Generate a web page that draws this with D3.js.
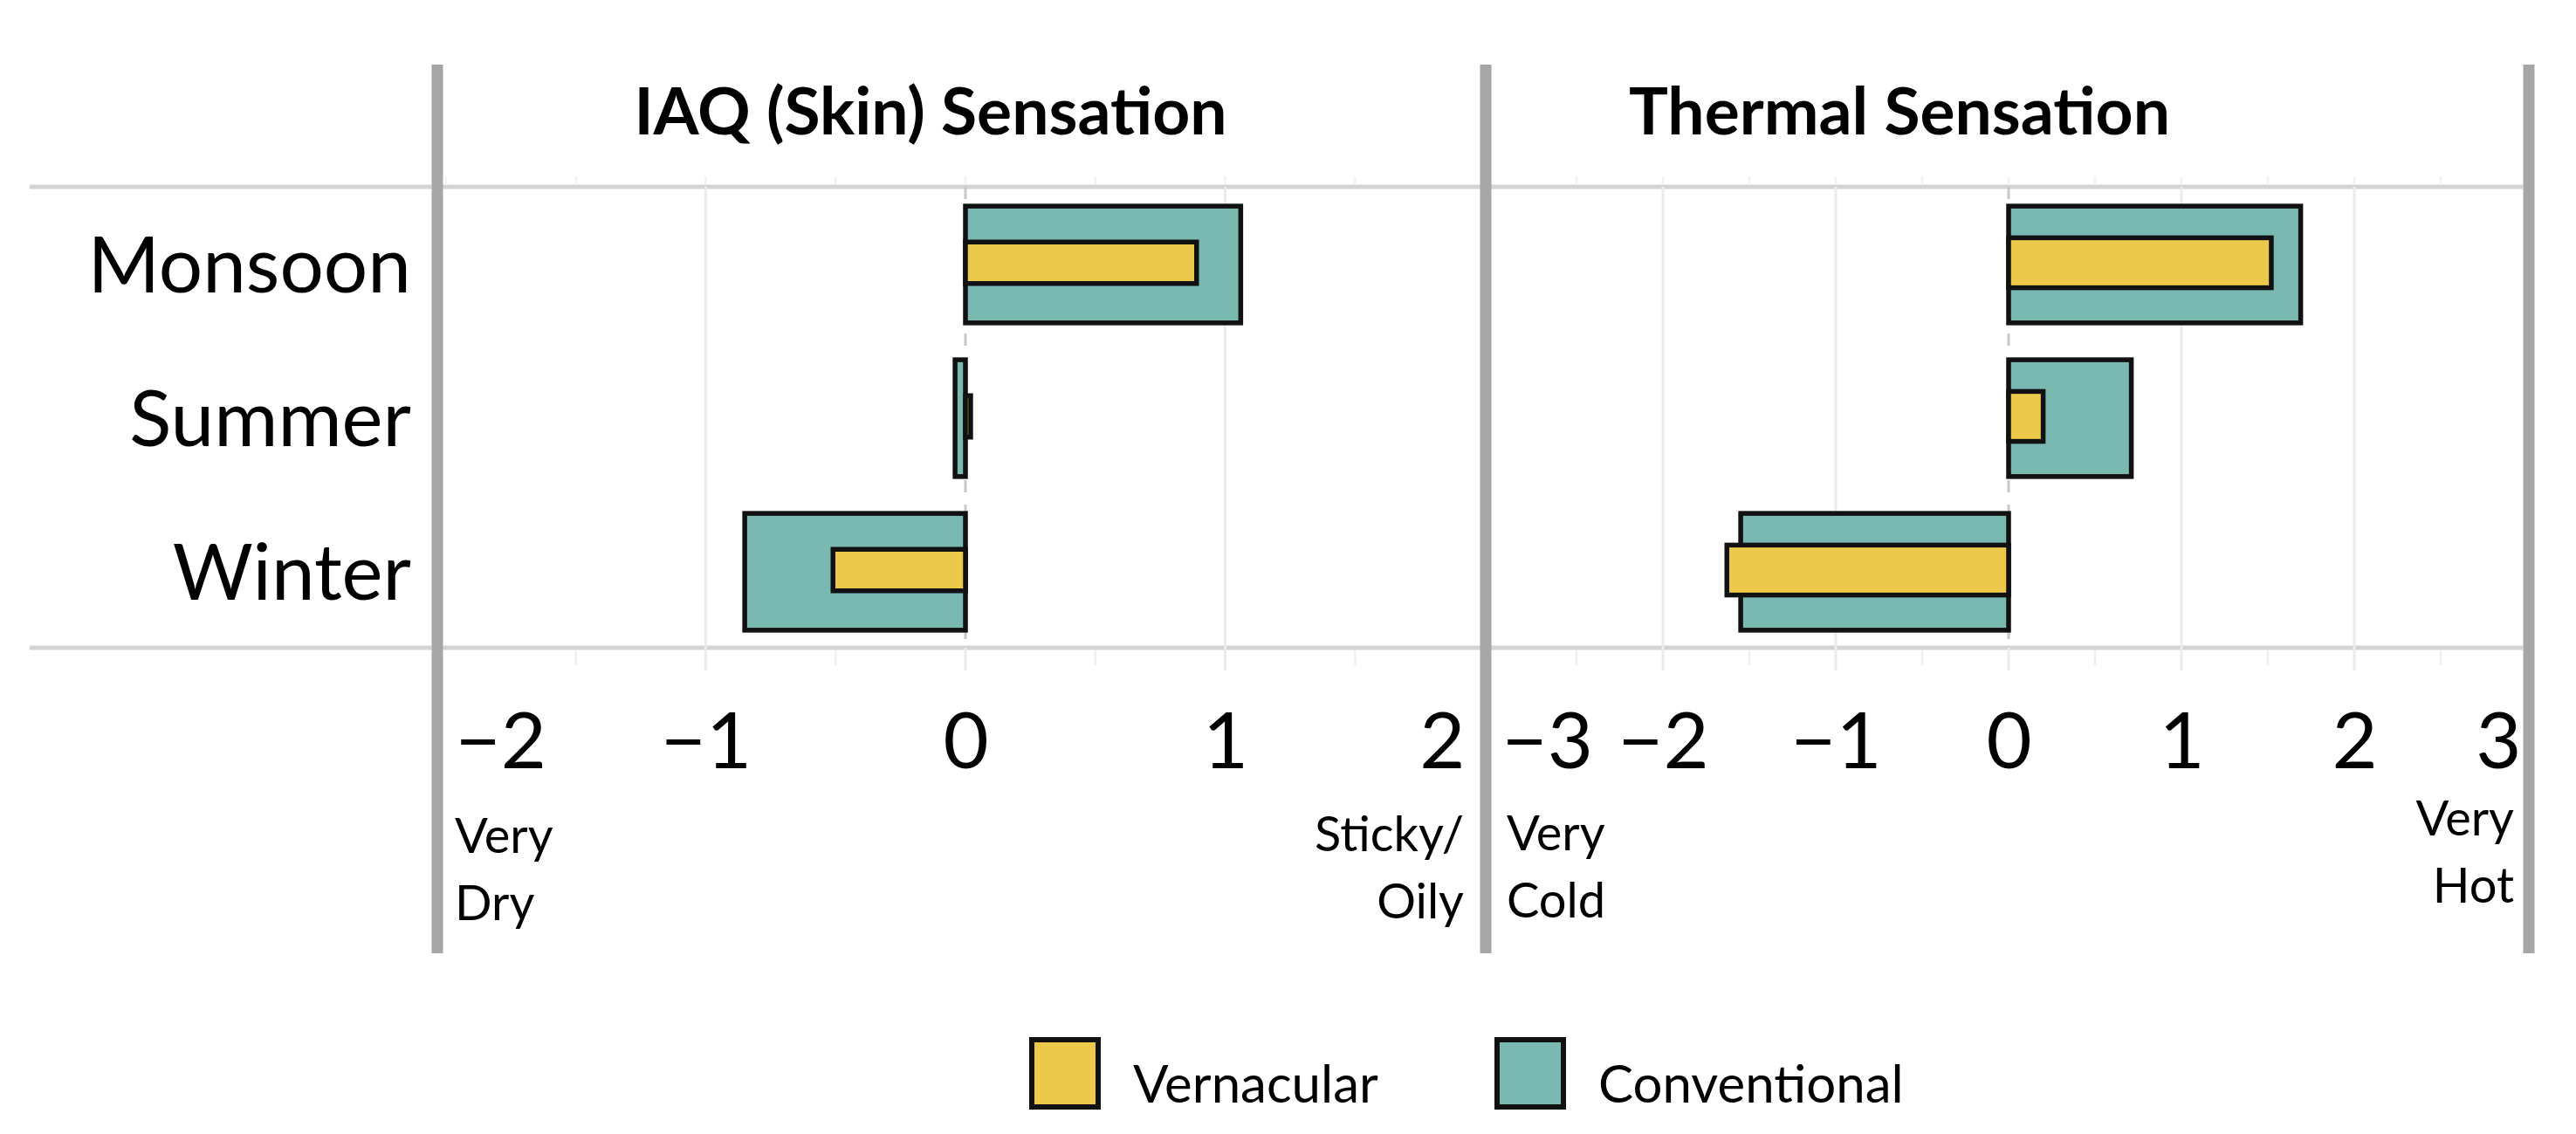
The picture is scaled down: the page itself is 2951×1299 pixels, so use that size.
<!DOCTYPE html>
<html>
<head>
<meta charset="utf-8">
<script src="https://cdn.jsdelivr.net/npm/d3@7"></script>
<style>
  body { margin: 0; background: #fff; }
  text { font-family: Lato, "Open Sans", sans-serif; fill: #000; }
</style>
</head>
<body>
<script>
// data
const seasons = ["Monsoon", "Summer", "Winter"];
const seriesNames = ["Vernacular", "Conventional"];
const iaqVernacular = [0.89, 0.02, -0.51];
const iaqConventional = [1.06, -0.04, -0.85];
const thermalVernacular = [1.52, 0.20, -1.63];
const thermalConventional = [1.69, 0.71, -1.55];
const iaqTicks = [-2, -1, 0, 1, 2];
const thermalTicks = [-3, -2, -1, 0, 1, 2, 3];
const iaqEndLabels = [["Very", "Dry"], ["Sticky/", "Oily"]];
const thermalEndLabels = [["Very", "Cold"], ["Very", "Hot"]];

const W = 2951, H = 1299;
const colors = { Vernacular: "#ecc94a", Conventional: "#79b9b1" };
const plotTop = 214, plotBottom = 742;

const svg = d3.select("body").append("svg")
    .attr("width", W)
    .attr("height", H);

const y = d3.scaleBand().domain(seasons).range([plotTop, plotBottom]);

const panels = [
    { title: "IAQ (Skin) Sensation", titleX: 1066, vern: iaqVernacular, conv: iaqConventional,
      ticks: iaqTicks, ends: iaqEndLabels, x: d3.scaleLinear().domain([-2, 2]).range([511, 1701]),
      vernFrac: 0.27, tickShift: [10, -23],
      endPos: [{ x: 521, y: 977, anchor: "start" }, { x: 1677, y: 975, anchor: "end" }] },
    { title: "Thermal Sensation", titleX: 2176, vern: thermalVernacular, conv: thermalConventional,
      ticks: thermalTicks, ends: thermalEndLabels, x: d3.scaleLinear().domain([-3, 3]).range([1707, 2895]),
      vernFrac: 0.325, tickShift: [13, -7],
      endPos: [{ x: 1726, y: 974, anchor: "start" }, { x: 2880, y: 957, anchor: "end" }] }
];

// horizontal rules
svg.selectAll(".hrule")
    .data([plotTop, plotBottom])
    .enter().append("line")
    .attr("x1", 34).attr("x2", 2890)
    .attr("y1", d => d).attr("y2", d => d)
    .attr("stroke", "#d3d3d3")
    .attr("stroke-width", 5);

panels.forEach(p => {
    const x = p.x;
    const dom = x.domain();
    const minor = d3.range(dom[0] + 0.5, dom[1], 1);
    const major = p.ticks.filter(t => t !== 0 && t !== dom[0] && t !== dom[1]);

    // faint minor marks
    svg.append("g").selectAll("line")
        .data(minor)
        .enter().append("line")
        .attr("x1", d => x(d)).attr("x2", d => x(d))
        .attr("y1", plotBottom + 3).attr("y2", plotBottom + 20)
        .attr("stroke", "#efefef").attr("stroke-width", 2.5);
    svg.append("g").selectAll("line")
        .data(minor.concat(p.ticks))
        .enter().append("line")
        .attr("x1", d => x(d)).attr("x2", d => x(d))
        .attr("y1", plotTop - 12).attr("y2", plotTop - 2)
        .attr("stroke", "#f2f2f2").attr("stroke-width", 2.5);

    // major gridlines
    svg.append("g").selectAll("line")
        .data(major)
        .enter().append("line")
        .attr("x1", d => x(d)).attr("x2", d => x(d))
        .attr("y1", plotTop).attr("y2", plotBottom + 26)
        .attr("stroke", "#ebebeb").attr("stroke-width", 3);

    // zero line
    svg.append("line")
        .attr("x1", x(0)).attr("x2", x(0))
        .attr("y1", plotTop).attr("y2", plotBottom)
        .attr("stroke", "#c8c8c8").attr("stroke-width", 3)
        .attr("stroke-dasharray", "14,14");
    svg.append("line")
        .attr("x1", x(0)).attr("x2", x(0))
        .attr("y1", plotBottom).attr("y2", plotBottom + 26)
        .attr("stroke", "#ebebeb").attr("stroke-width", 3);

    // bars
    const convH = y.bandwidth() * 0.76;
    const vernH = y.bandwidth() * p.vernFrac;
    svg.append("g").selectAll("rect")
        .data(seasons.map((s, i) => ({ s, v: p.conv[i] })))
        .enter().append("rect")
        .attr("x", d => x(Math.min(0, d.v)))
        .attr("width", d => Math.abs(x(d.v) - x(0)))
        .attr("y", d => y(d.s) + y.bandwidth() / 2 - convH / 2 + 1)
        .attr("height", convH)
        .attr("fill", colors.Conventional)
        .attr("stroke", "#111").attr("stroke-width", 5.5);
    svg.append("g").selectAll("rect")
        .data(seasons.map((s, i) => ({ s, v: p.vern[i] })))
        .enter().append("rect")
        .attr("x", d => x(Math.min(0, d.v)))
        .attr("width", d => Math.abs(x(d.v) - x(0)))
        .attr("y", d => y(d.s) + y.bandwidth() / 2 - vernH / 2 - 1)
        .attr("height", vernH)
        .attr("fill", colors.Vernacular)
        .attr("stroke", "#111").attr("stroke-width", 5.5);

    // tick labels
    const axis = svg.append("g")
        .attr("transform", "translate(0,880)")
        .call(d3.axisBottom(x).tickValues(p.ticks).tickSize(0)
            .tickFormat(d => d < 0 ? "\u2212" + Math.abs(d) : d));
    axis.select(".domain").remove();
    axis.selectAll("text")
        .attr("y", 0).attr("dy", 0)
        .attr("font-family", "Lato, sans-serif")
        .attr("font-size", 90)
        .attr("fill", "#000");
    axis.selectAll("text").filter(d => d === dom[0])
        .attr("text-anchor", "start").attr("x", p.tickShift[0]);
    axis.selectAll("text").filter(d => d === dom[1])
        .attr("text-anchor", "end").attr("x", p.tickShift[1]);

    // end descriptors
    p.ends.forEach((lines, k) => {
        const pos = p.endPos[k];
        const t = svg.append("text")
            .attr("font-size", 56)
            .attr("text-anchor", pos.anchor);
        t.selectAll("tspan")
            .data(lines)
            .enter().append("tspan")
            .attr("x", pos.x)
            .attr("y", (d, i) => pos.y + i * 77)
            .text(d => d);
    });

    // panel title
    svg.append("text")
        .attr("x", p.titleX).attr("y", 154)
        .attr("text-anchor", "middle")
        .attr("font-size", 75)
        .attr("font-weight", "bold")
        .text(p.title);
});

// season labels
svg.append("g").selectAll("text")
    .data(seasons)
    .enter().append("text")
    .attr("x", 471)
    .attr("y", d => y(d) + y.bandwidth() / 2 + 33)
    .attr("text-anchor", "end")
    .attr("font-size", 89)
    .text(d => d);

// panel dividers
svg.selectAll(".divider")
    .data([501, 1702, 2897])
    .enter().append("line")
    .attr("x1", d => d).attr("x2", d => d)
    .attr("y1", 74).attr("y2", 1092)
    .attr("stroke", "#a6a6a6")
    .attr("stroke-width", 13);

// legend
const legend = svg.selectAll(".legend")
    .data(seriesNames)
    .enter().append("g")
    .attr("transform", (d, i) => "translate(" + [1182, 1715][i] + ",1191)");
legend.append("rect")
    .attr("width", 76).attr("height", 77)
    .attr("fill", d => colors[d])
    .attr("stroke", "#111").attr("stroke-width", 6);
legend.append("text")
    .attr("x", 116).attr("y", 72)
    .attr("font-size", 60)
    .text(d => d);
</script>
</body>
</html>
